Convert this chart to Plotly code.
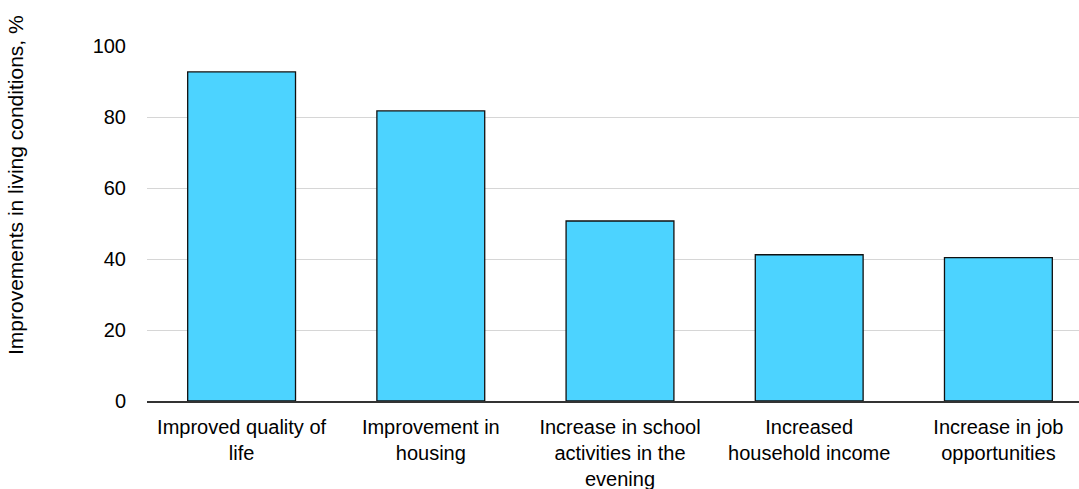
import plotly.graph_objects as go

# Survey results: share of respondents reporting each improvement
categories = [
    "Improved quality of<br>life",
    "Improvement in<br>housing",
    "Increase in school<br>activities in the<br>evening",
    "Increased<br>household income",
    "Increase in job<br>opportunities",
]
values = [92.7, 81.7, 50.7, 41.2, 40.4]
y_ticks = [0, 20, 40, 60, 80, 100]

W, H = 1079, 489
M_L, M_R, M_T, M_B = 147, 0, 46, 88

fig = go.Figure(
    go.Bar(
        x=list(range(len(categories))),
        y=values,
        width=0.57,
        marker=dict(color="#4CD3FF", line=dict(color="#111111", width=1.3)),
        hoverinfo="y",
    )
)

font_family = "Liberation Sans, Arial, sans-serif"

fig.update_layout(
    width=W,
    height=H,
    margin=dict(l=M_L, r=M_R, t=M_T, b=M_B),
    paper_bgcolor="white",
    plot_bgcolor="white",
    showlegend=False,
    font=dict(family=font_family, size=20, color="#000000"),
    xaxis=dict(
        range=[-0.5, 4.426],
        tickmode="array",
        tickvals=list(range(len(categories))),
        ticktext=categories,
        showgrid=False,
        showline=True,
        linecolor="#333333",
        linewidth=1.5,
        ticks="",
        tickangle=0,
        ticklabelstandoff=7,
        tickfont=dict(size=20),
        automargin=False,
    ),
    yaxis=dict(
        range=[0, 100],
        tickmode="array",
        tickvals=y_ticks,
        showgrid=True,
        gridcolor="#D6D6D6",
        gridwidth=1.3,
        zeroline=False,
        showline=False,
        ticks="",
        ticklabelstandoff=20,
        tickfont=dict(size=20),
        automargin=False,
    ),
    annotations=[
        dict(
            text="Improvements in living conditions, %",
            textangle=-90,
            xref="paper",
            yref="paper",
            x=(15 - M_L) / (W - M_L - M_R),
            y=(H - M_B - 185) / (H - M_T - M_B),
            xanchor="center",
            yanchor="middle",
            showarrow=False,
            font=dict(size=21, family=font_family),
        )
    ],
)

fig.write_html("out.html")
